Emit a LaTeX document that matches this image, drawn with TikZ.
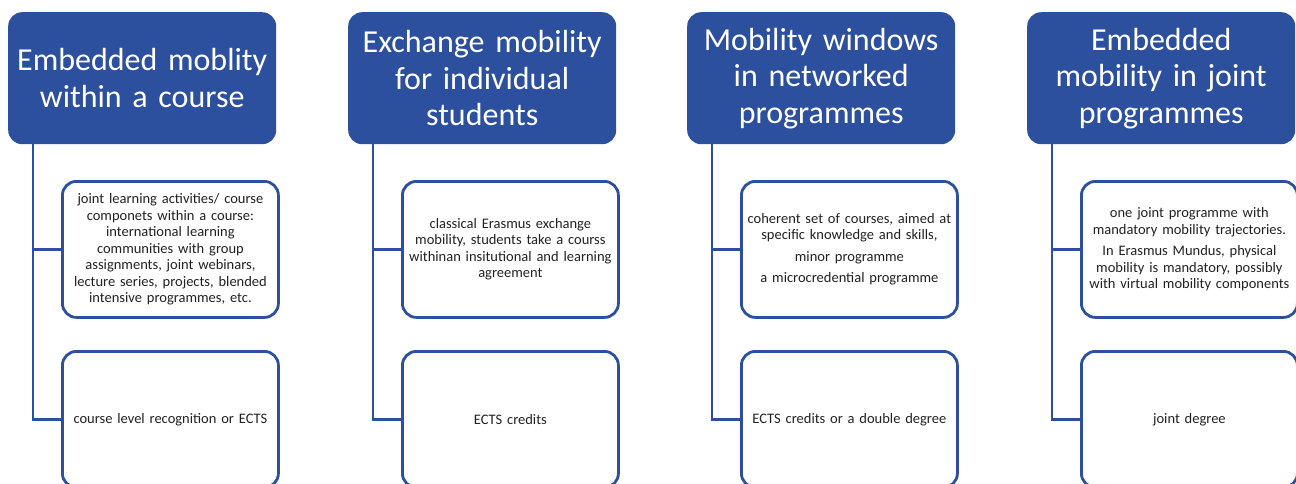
\documentclass[tikz,border=0pt]{standalone}
\usepackage{fontspec}
\setmainfont{Carlito}
\definecolor{hblue}{RGB}{44,80,158}
\definecolor{txt}{RGB}{34,34,34}
\tikzset{
  hdrbox/.style={fill=hblue, rounded corners=14pt, minimum width=268pt, minimum height=132pt,
    anchor=north west, text=white, align=center, text width=264pt, inner sep=0pt,
    font=\fontsize{32}{36.5}\selectfont},
  subbox/.style={draw=hblue, line width=2.8pt, fill=white, rounded corners=14pt, minimum width=216pt,
    minimum height=135pt, anchor=north west, text=txt, align=center, text width=212pt, inner sep=0pt,
    font=\fontsize{14.5}{16.5}\selectfont},
  conn/.style={draw=hblue, line width=2.8pt}
}
\begin{document}
\begin{tikzpicture}[x=1pt,y=-1pt]
\useasboundingbox (0,0) rectangle (1296,483);
\clip (0,0) rectangle (1296,483);
% column 1
\node[hdrbox] (h1) at (8,12) {Embedded moblity\\within a course};
\coordinate (v1) at (33,144);
\node[subbox, minimum height=136pt] (a1) at (61,180) {joint learning activities/ course\\componets within a course:\\international learning\\communities with group\\assignments, joint webinars,\\lecture series, projects, blended\\intensive programmes, etc.};
\node[subbox, minimum height=136pt] (b1) at (61,350) {course level recognition or ECTS};
\draw[conn] (v1) |- (a1.west);
\draw[conn] (v1) |- (b1.west);
% column 2
\node[hdrbox] (h2) at (348,12) {Exchange mobility\\for individual\\students};
\coordinate (v2) at (373,144);
\node[subbox, minimum height=136pt] (a2) at (401,180) {classical Erasmus exchange\\mobility, students take a courss\\withinan insitutional and learning\\agreement};
\node[subbox, minimum height=136pt] (b2) at (401,350) {ECTS credits};
\draw[conn] (v2) |- (a2.west);
\draw[conn] (v2) |- (b2.west);
% column 3
\node[hdrbox] (h3) at (687,12) {Mobility windows\\in networked\\programmes};
\coordinate (v3) at (712,144);
\node[subbox, minimum height=136pt] (a3) at (740,180) {coherent set of courses, aimed at\\specific knowledge and skills,\\[5pt]minor programme\\[5pt]a microcredential programme};
\node[subbox, minimum height=136pt] (b3) at (740,350) {ECTS credits or a double degree};
\draw[conn] (v3) |- (a3.west);
\draw[conn] (v3) |- (b3.west);
% column 4
\node[hdrbox] (h4) at (1027,12) {Embedded\\mobility in joint\\programmes};
\coordinate (v4) at (1052,144);
\node[subbox, minimum height=136pt] (a4) at (1080,180) {one joint programme with\\mandatory mobility trajectories.\\[5pt]In Erasmus Mundus, physical\\mobility is mandatory, possibly\\with virtual mobility components};
\node[subbox, minimum height=136pt] (b4) at (1080,350) {joint degree};
\draw[conn] (v4) |- (a4.west);
\draw[conn] (v4) |- (b4.west);
\end{tikzpicture}
\end{document}
